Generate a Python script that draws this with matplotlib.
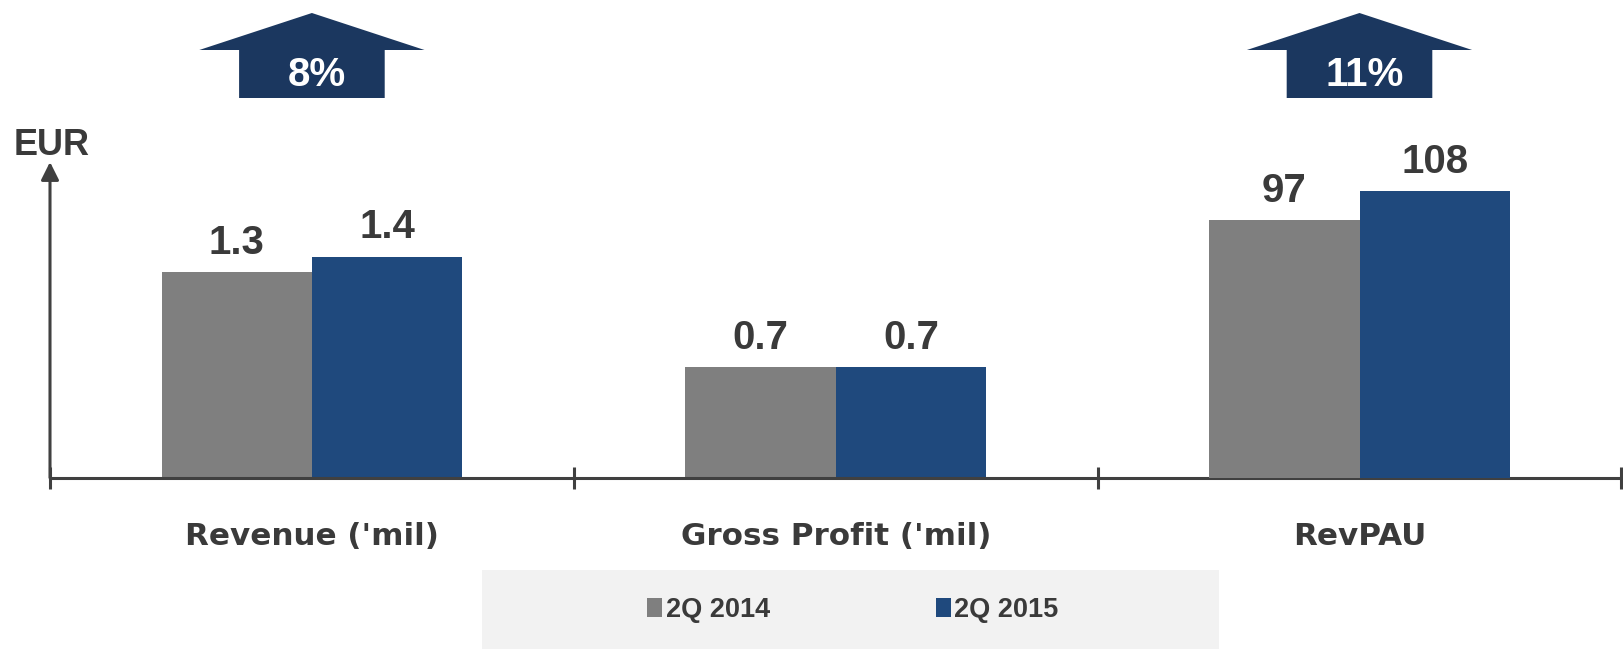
import matplotlib
matplotlib.use("Agg")
import matplotlib.pyplot as plt
import matplotlib.transforms as mtransforms
from matplotlib.patches import Polygon, Rectangle

# data
categories = ["Revenue ('mil)", "Gross Profit ('mil)", "RevPAU"]
q2_2014 = [1.3, 0.7, 97]
q2_2015 = [1.4, 0.7, 108]
growth = ["8%", "", "11%"]
series_names = ["2Q 2014", "2Q 2015"]
# which scale each group is drawn on: 0 = EUR millions, 1 = EUR per unit
scale_of = [0, 0, 1]

GREY = "#7f7f7f"
BLUE = "#1f497d"
NAVY = "#1b375f"
TXT = "#3a3a3a"
AXC = "#404040"

W, H = 1624, 649
fig = plt.figure(figsize=(W / 100, H / 100), dpi=100)

base_y = 477.7
top_y = 162
ax = fig.add_axes([50 / W, (H - base_y) / H, 1571.4 / W, (base_y - top_y) / H])
ax.set_xlim(-0.5, 2.5)
ax.set_ylim(0, 2.0)
ax2 = ax.twinx()
ax2.set_ylim(0, 119)
axes_for = [ax, ax2]

for a in (ax, ax2):
    for s in a.spines.values():
        s.set_visible(False)
    a.set_yticks([])
ax.spines["bottom"].set_visible(True)
ax.spines["bottom"].set_color(AXC)
ax.spines["bottom"].set_linewidth(2.2)
ax.set_xticks([-0.5, 0.5, 1.5, 2.5])
ax.set_xticklabels([])
ax.tick_params(axis="x", direction="inout", length=16, width=2.2, color=AXC)

# y axis with arrow head
ax.annotate("", xy=(-0.5, 1.0), xycoords=("data", "axes fraction"),
            xytext=(-0.5, 0.0), textcoords=("data", "axes fraction"),
            arrowprops=dict(arrowstyle="-|>,head_length=0.6,head_width=0.3",
                            mutation_scale=18, lw=2.2, color=AXC,
                            shrinkA=0, shrinkB=0),
            annotation_clip=False)
fig.text(51.5 / W, 1 - 155 / H, "EUR", ha="center", va="baseline",
         fontsize=26, fontweight="bold", color=TXT, family="Liberation Sans")

bw = 0.287
for i, cat in enumerate(categories):
    a = axes_for[scale_of[i]]
    for x, v, c in ((i - bw / 2, q2_2014[i], GREY), (i + bw / 2, q2_2015[i], BLUE)):
        a.bar(x, v, width=bw, color=c, linewidth=0, zorder=2)
        a.annotate(f"{v:g}", xy=(x, v), xytext=(0, 13.3), textcoords="offset points",
                   ha="center", va="baseline", fontsize=29, fontweight="bold",
                   color=TXT, family="Liberation Sans")

blend = mtransforms.blended_transform_factory(ax.transData, fig.transFigure)

for i, cat in enumerate(categories):
    ax.text(i, (H - 545) / H, cat, transform=blend, ha="center", va="baseline",
            fontsize=22.3, fontweight="bold", color=TXT, family="DejaVu Sans")

# growth arrows
tip, wing, bot = 1 - 13 / H, 1 - 50 / H, 1 - 98 / H
wh, bh = 0.215, 0.139
for i, g in enumerate(growth):
    if not g:
        continue
    c = i
    pts = [(c - bh, bot), (c - bh, wing), (c - wh, wing), (c, tip),
           (c + wh, wing), (c + bh, wing), (c + bh, bot)]
    ax.add_patch(Polygon(pts, closed=True, transform=blend, facecolor=NAVY,
                         edgecolor="none", clip_on=False))
    ax.text(c + 0.01, 1 - 86 / H, g, transform=blend, ha="center", va="baseline",
            fontsize=29, fontweight="bold", color="white", family="Liberation Sans")

# legend panel
fig.add_artist(Rectangle((481.6 / W, 0), (1219 - 481.6) / W, (H - 570) / H,
                         transform=fig.transFigure, facecolor="#f2f2f2",
                         edgecolor="none", zorder=0))
handles = [Rectangle((0, 0), 1, 1, facecolor=GREY, edgecolor="none"),
           Rectangle((0, 0), 1, 1, facecolor=BLUE, edgecolor="none")]
leg = fig.legend(handles, series_names, loc="center", ncol=2,
                 bbox_to_anchor=(853 / W, 1 - 610 / H), frameon=False,
                 handlelength=0.55, handleheight=0.65, handletextpad=0.12,
                 columnspacing=6.15,
                 prop=dict(family="Liberation Sans", weight="bold", size=19.5))
for t in leg.get_texts():
    t.set_color(TXT)

fig.savefig("out.png", dpi=100)
